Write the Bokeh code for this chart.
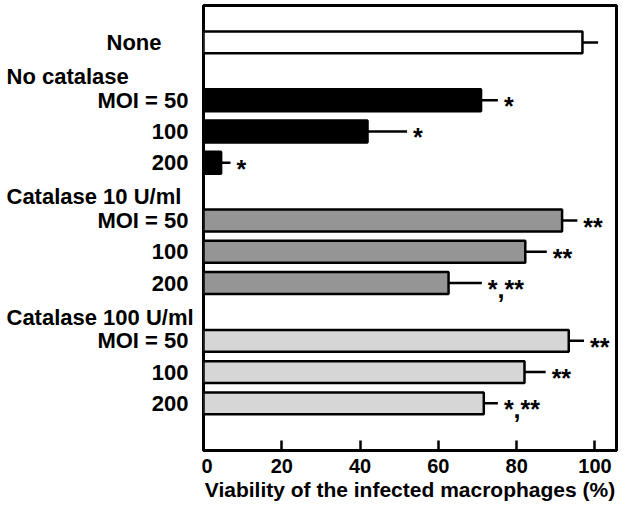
from bokeh.plotting import figure
from bokeh.models import Range1d, FixedTicker, ColumnDataSource
from bokeh.layouts import row
from bokeh.core.properties import value
from bokeh.embed import file_html
from bokeh.resources import INLINE

# ---- data ----
row_labels = ["None", "MOI = 50", "100", "200", "MOI = 50", "100", "200",
              "MOI = 50", "100", "200"]
row_group = [0, 1, 1, 1, 2, 2, 2, 3, 3, 3]
group_titles = ["", "No catalase", "Catalase 10 U/ml", "Catalase 100 U/ml"]
group_colors = ["#ffffff", "#000000", "#959595", "#d6d6d6"]
viability = [96.8, 70.9, 41.9, 4.5, 91.6, 82.2, 62.6, 93.3, 82.0, 71.6]
sd = [4.0, 4.3, 10.1, 2.4, 3.9, 5.5, 8.5, 3.9, 5.4, 3.6]
significance = ["", "*", "*", "*", "**", "**", "*,**", "**", "**", "*,**"]
x_ticks = [0, 20, 40, 60, 80, 100]

FONT = "Liberation Sans"
H = 508
TOP = 5
BOTTOM = 58

# row positions (top to bottom), with a gap before each new group
GAP = 0.85
pos = []
cur = 0.0
prev = row_group[0]
for g in row_group:
    if g != prev:
        cur += GAP
        prev = g
    pos.append(round(cur, 3))
    cur += 1

ends = [v + s for v, s in zip(viability, sd)]
colors = [group_colors[g] for g in row_group]

yr = Range1d(13.06, -1.18)

# ---- bar panel ----
src = ColumnDataSource(dict(y=pos, v=viability, e=ends, c=colors, sig=significance))

p = figure(width=418, height=H, output_backend="svg", toolbar_location=None,
           x_range=Range1d(0, 105.5), y_range=yr,
           min_border_left=2, min_border_right=3, min_border_top=TOP,
           min_border_bottom=BOTTOM)

p.xgrid.visible = False
p.ygrid.visible = False
p.yaxis.visible = False
p.outline_line_color = "black"
p.outline_line_width = 3
p.background_fill_color = "white"
p.border_fill_color = "white"

p.hbar(y="y", right="v", left=0, height=0.7, fill_color="c", line_color="black",
       line_width=2.5, source=src)
p.segment(x0="v", y0="y", x1="e", y1="y", line_color="black", line_width=2.5, source=src)
p.text(x="e", y="y", text="sig", x_offset=6, y_offset=6, text_align="left",
       text_baseline="middle", text_font_size="25px", text_font_style="bold",
       text_color="black", text_font=value(FONT), source=src)

ax = p.xaxis[0]
ax.ticker = FixedTicker(ticks=x_ticks)
ax.major_tick_in = 10
ax.major_tick_out = 0
ax.minor_tick_line_color = None
ax.major_tick_line_width = 2.5
ax.axis_line_width = 3
ax.major_label_text_font = FONT
ax.major_label_text_font_size = "20px"
ax.major_label_text_font_style = "bold"
ax.major_label_text_color = "black"
ax.major_label_standoff = 8
ax.axis_label = "Viability of the infected macrophages (%)"
ax.axis_label_text_font = FONT
ax.axis_label_text_font_size = "21px"
ax.axis_label_text_font_style = "bold"
ax.axis_label_text_color = "black"
ax.axis_label_standoff = 2

# ---- label panel (shares the y range) ----
LW = 201
q = figure(width=LW, height=H, output_backend="svg", toolbar_location=None,
           x_range=Range1d(0, LW), y_range=yr,
           min_border_left=0, min_border_right=0, min_border_top=TOP,
           min_border_bottom=BOTTOM)
q.xaxis.visible = False
q.yaxis.visible = False
q.xgrid.visible = False
q.ygrid.visible = False
q.outline_line_color = None
q.border_fill_color = "white"
q.background_fill_color = "white"

lx, ly, lt, la = [], [], [], []
for lab, y, g in zip(row_labels, pos, row_group):
    lx.append(161 if g == 0 else 188)
    ly.append(y)
    lt.append(lab)
    la.append("right")
for g, title in enumerate(group_titles):
    if not title:
        continue
    first = pos[row_group.index(g)]
    lx.append(6)
    ly.append(first - 0.76)
    lt.append(title)
    la.append("left")

q.text(x=lx, y=ly, text=lt, text_align=la, text_baseline="middle",
       text_font=value(FONT), text_font_size="22px", text_font_style="bold",
       text_color="black")

layout = row(q, p, spacing=0)
open("out.html", "w").write(file_html(layout, INLINE))
